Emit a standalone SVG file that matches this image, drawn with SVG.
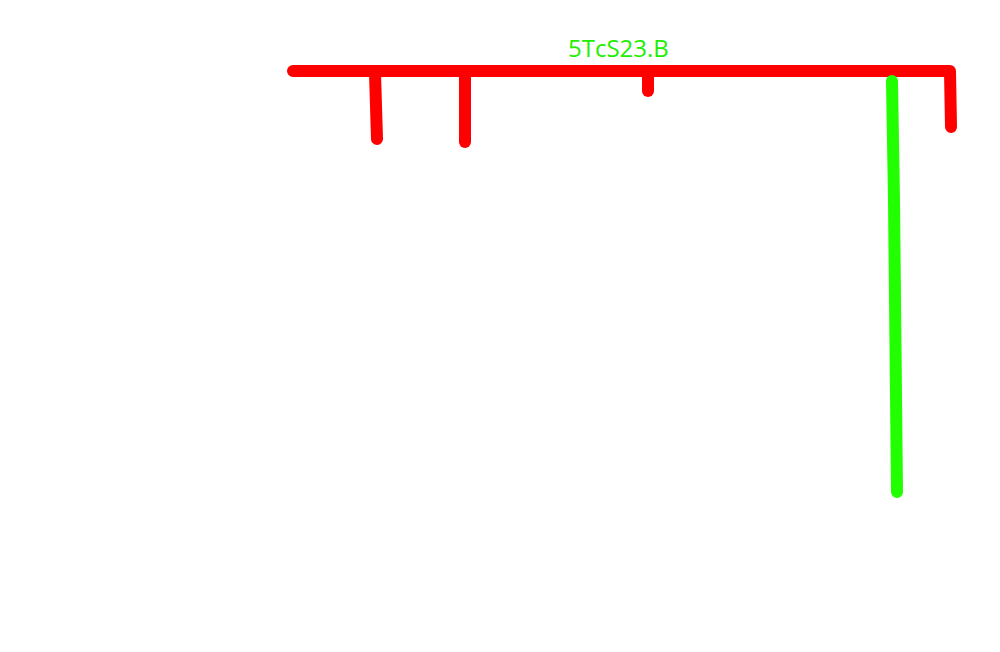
<svg xmlns="http://www.w3.org/2000/svg" width="1000" height="652" viewBox="0 0 1000 652">
<style>
.red{fill:none;stroke:#ff0000;stroke-width:12;stroke-linecap:round;stroke-linejoin:round}
.grn{fill:none;stroke:#22ff00;stroke-width:12;stroke-linecap:round;stroke-linejoin:round}
.lbl{font-family:"Open Sans","Noto Sans",sans-serif;font-size:24px;fill:#22ee00}
</style>
<rect width="1000" height="652" fill="#ffffff"/>
<g id="connectors">
<g id="bus">
<polyline class="red" points="293,71 950,71 951,127"/>
<polyline class="red" points="375,73 377,139"/>
<polyline class="red" points="465,73 465,142"/>
<polyline class="red" points="648,73 648,91"/>
</g>
<g id="green-line">
<polyline class="grn" points="892,81 894,200 897,492"/>
</g>
</g>
<g id="label">
<text class="lbl" x="568" y="57">5TcS23.B</text>
</g>
</svg>
